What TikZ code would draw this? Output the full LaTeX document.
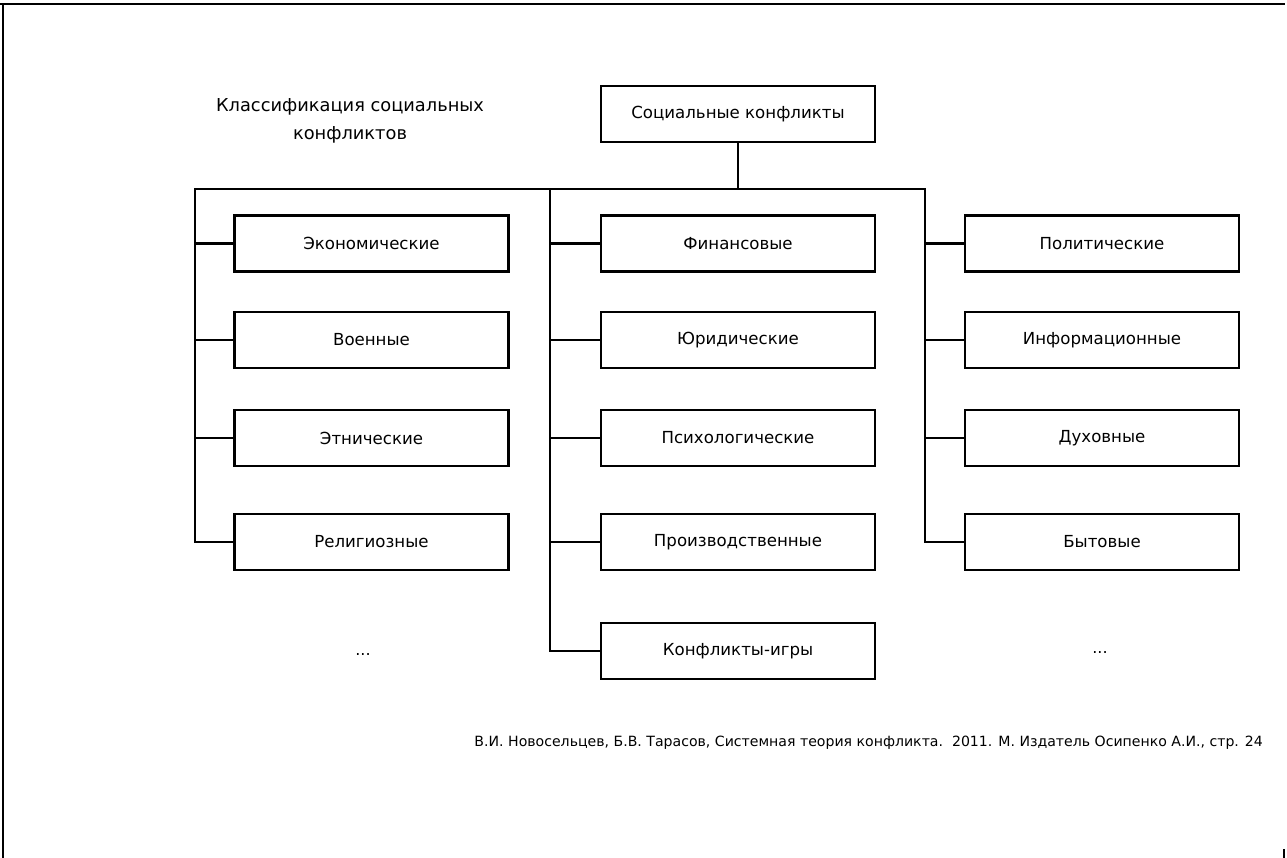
\documentclass[tikz,border=0pt]{standalone}
\usepackage{fontspec}
\setmainfont{DejaVu Sans}
\begin{document}
\begin{tikzpicture}[x=1pt,y=1pt,
  box/.style={draw, line width=2.2pt, minimum width=274pt, minimum height=56pt, inner sep=0pt, font=\fontsize{16.6}{19}\selectfont},
  conn/.style={line width=2.2pt, line cap=rect},
  lbl/.style={inner sep=0pt, font=\fontsize{16}{19}\selectfont}]
\useasboundingbox (0,0) rectangle (1287,-858);
% page frame
\draw[line width=2.6pt] (0,-4) -- (103,-4);
\draw[line width=1.6pt] (103,-4) -- (1285,-4);
\draw[line width=2.4pt] (3,-4) -- (3,-858);
\draw[line width=2pt] (1284,-849) -- (1284,-858);
% title
\node[lbl, align=center, font=\fontsize{17.8}{28}\selectfont] (title) at (350,-121) {Классификация социальных\\конфликтов};
% top
\node[box] (top) at (738,-114) {Социальные конфликты};
% left column
\node[box] (eco) at (371.5,-243.5) {Экономические};
\node[box] (mil) at (371.5,-340) {Военные};
\node[box] (eth) at (371.5,-438) {Этнические};
\node[box] (rel) at (371.5,-542) {Религиозные};
% middle column
\node[box] (fin) at (738,-243.5) {Финансовые};
\node[box] (jur) at (738,-340) {Юридические};
\node[box] (psy) at (738,-438) {Психологические};
\node[box] (pro) at (738,-542) {Производственные};
\node[box] (igr) at (738,-651) {Конфликты-игры};
% right column
\node[box] (pol) at (1102,-243.5) {Политические};
\node[box] (inf) at (1102,-340) {Информационные};
\node[box] (duh) at (1102,-438) {Духовные};
\node[box] (byt) at (1102,-542) {Бытовые};
% ellipses
\node[lbl] (dotsl) at (363,-655) {...};
\node[lbl] (dotsr) at (1100,-653) {...};
% junctions
\coordinate (hub) at (738,-189);
\coordinate (lc) at (195,-189);
\coordinate (mc) at (550,-189);
\coordinate (rc) at (925,-189);
% connectors
\draw[conn] (top.south) -- (hub);
\draw[conn] (lc |- rel.west) -- (lc) -- (rc) -- (rc |- byt.west);
\draw[conn] (mc) -- (mc |- igr.west);
\foreach \n in {eco,mil,eth,rel} \draw[conn] (\n.west) -- (\n.west -| lc);
\foreach \n in {fin,jur,psy,pro,igr} \draw[conn] (\n.west) -- (\n.west -| mc);
\foreach \n in {pol,inf,duh,byt} \draw[conn] (\n.west) -- (\n.west -| rc);
% source
\node[lbl, anchor=east, font=\fontsize{14.1}{16}\selectfont] (src) at (1263,-743) {В.И. Новосельцев, Б.В. Тарасов, Системная теория конфликта.\ \ 2011. М. Издатель Осипенко А.И., стр. 24};
\end{tikzpicture}
\end{document}
